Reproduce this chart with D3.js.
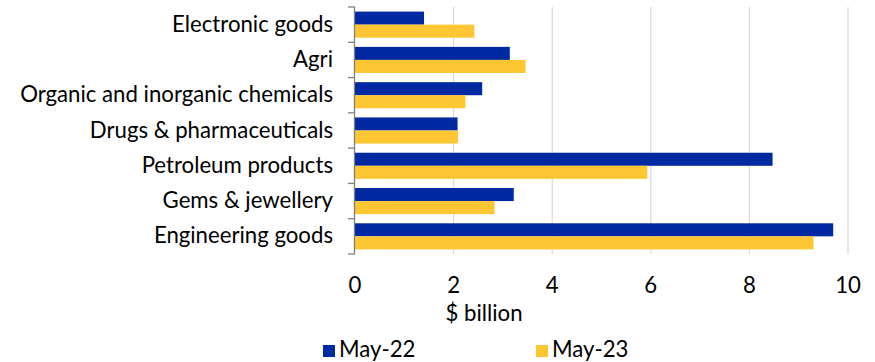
<!DOCTYPE html>
<html>
<head>
<meta charset="utf-8">
<script src="https://cdn.jsdelivr.net/npm/d3@7"></script>
<style>
  body { margin: 0; background: #fff; }
  svg { display: block; font-family: Lato, "Open Sans", sans-serif; }
</style>
</head>
<body>
<script>
// data
const categories = ["Electronic goods", "Agri", "Organic and inorganic chemicals",
  "Drugs & pharmaceuticals", "Petroleum products", "Gems & jewellery", "Engineering goods"];
const seriesNames = ["May-22", "May-23"];
const may22 = [1.40, 3.14, 2.58, 2.08, 8.47, 3.22, 9.70];
const may23 = [2.42, 3.46, 2.24, 2.09, 5.93, 2.83, 9.30];
const xTicks = [0, 2, 4, 6, 8, 10];

const width = 875, height = 362;
const colors = ["#0029a2", "#ffc634"];
const fontSize = 22.2;

const svg = d3.select("body").append("svg")
    .attr("width", width)
    .attr("height", height);

const x = d3.scaleLinear().domain([0, 10]).range([355, 848]);
const y = d3.scaleBand().domain(categories).range([7, 254]).paddingInner(0.26).paddingOuter(0.13);
const ySub = d3.scaleBand().domain(seriesNames).range([0, y.bandwidth()]);

// gridlines
svg.append("g")
  .selectAll("line")
  .data(xTicks.slice(1))
  .join("line")
    .attr("x1", d => x(d)).attr("x2", d => x(d))
    .attr("y1", 7).attr("y2", 254)
    .attr("stroke", "#d9d9d9")
    .attr("stroke-width", 1.2);

// bars
const rows = categories.map((c, i) => ({cat: c, vals: [may22[i], may23[i]]}));
const groups = svg.append("g")
  .selectAll("g")
  .data(rows)
  .join("g")
    .attr("transform", d => `translate(0,${y(d.cat)})`);

groups.selectAll("rect")
  .data(d => d.vals.map((v, j) => ({name: seriesNames[j], v: v, j: j})))
  .join("rect")
    .attr("x", x(0))
    .attr("y", d => ySub(d.name))
    .attr("width", d => x(d.v) - x(0))
    .attr("height", ySub.bandwidth())
    .attr("fill", d => colors[d.j]);

// y axis with boundary ticks
const yAxis = svg.append("g");
yAxis.append("line")
    .attr("x1", 354.5).attr("x2", 354.5)
    .attr("y1", 7).attr("y2", 254)
    .attr("stroke", "#808080").attr("stroke-width", 1.3);
const bounds = categories.map(c => y(c) - y.step() * y.paddingInner() / 2);
bounds.push(254);
bounds[0] = 7;
yAxis.selectAll("line.tk")
  .data(bounds)
  .join("line")
    .attr("class", "tk")
    .attr("x1", 348).attr("x2", 355)
    .attr("y1", d => d).attr("y2", d => d)
    .attr("stroke", "#808080").attr("stroke-width", 1.3);

yAxis.selectAll("text")
  .data(categories)
  .join("text")
    .attr("x", 333)
    .attr("y", d => y(d) + y.bandwidth() / 2 + 7)
    .attr("text-anchor", "end")
    .attr("font-size", fontSize)
    .attr("fill", "#000")
    .text(d => d);

// x tick labels
svg.append("g")
  .selectAll("text")
  .data(xTicks)
  .join("text")
    .attr("x", d => x(d))
    .attr("y", 293)
    .attr("text-anchor", "middle")
    .attr("font-size", fontSize)
    .text(d => d);

svg.append("text")
    .attr("x", 484)
    .attr("y", 321)
    .attr("text-anchor", "middle")
    .attr("font-size", fontSize)
    .text("$ billion");

// legend
const legend = svg.append("g")
  .selectAll("g")
  .data(seriesNames)
  .join("g")
    .attr("transform", (d, i) => `translate(${323 + i * 213},345)`);
legend.append("rect")
    .attr("width", 12).attr("height", 12)
    .attr("fill", (d, i) => colors[i]);
legend.append("text")
    .attr("x", 16).attr("y", 12)
    .attr("font-size", fontSize)
    .text(d => d);
</script>
</body>
</html>
